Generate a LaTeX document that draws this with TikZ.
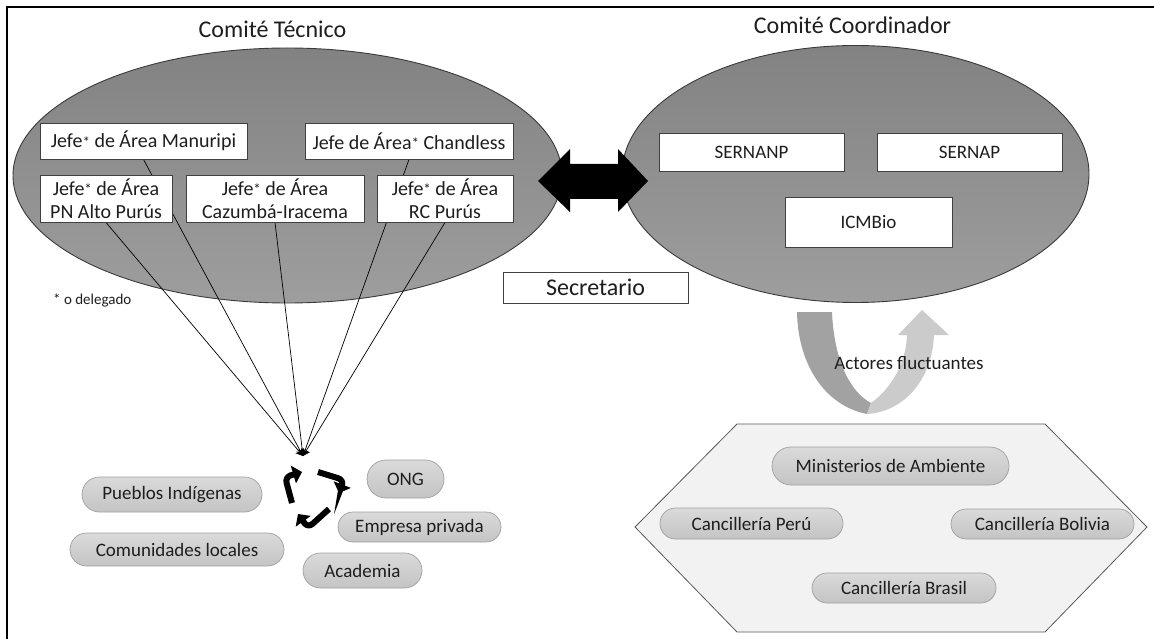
\documentclass[tikz,border=0pt]{standalone}
\usepackage{fontspec}
\setmainfont{Carlito}
\usetikzlibrary{shapes.geometric,shapes.misc,arrows.meta}
\pgfdeclarelayer{back}
\pgfdeclarelayer{mid}
\pgfsetlayers{back,mid,main}
\definecolor{txt}{HTML}{1E1E1E}
\definecolor{boxline}{HTML}{404040}
\definecolor{elltop}{HTML}{828282}
\definecolor{ellbot}{HTML}{9E9E9E}
\definecolor{ellline}{HTML}{3A3A3A}
\definecolor{pilltop}{HTML}{DADADA}
\definecolor{pillbot}{HTML}{C4C4C4}
\definecolor{pillline}{HTML}{A0A0A0}
\definecolor{hexfill}{HTML}{F2F2F2}
\definecolor{hexline}{HTML}{595959}
\definecolor{udark}{HTML}{A2A2A2}
\definecolor{ulight}{HTML}{CBCBCB}
\newcommand\mystar{\raisebox{0.02em}{\fontsize{15}{15}\selectfont *}}
\begin{document}
\begin{tikzpicture}[x=1pt,y=-1pt,
  titletext/.style={font=\fontsize{24}{28}\selectfont, text=txt, inner sep=0, anchor=base},
  box/.style={draw=boxline, line width=0.9pt, fill=white, inner sep=0, align=center, text=txt, font=\fontsize{20}{23}\selectfont},
  pill/.style={rounded rectangle, draw=pillline, line width=0.7pt, top color=pilltop, bottom color=pillbot, inner sep=0, text=txt, font=\fontsize{19}{22}\selectfont},
  committee/.style={ellipse, draw=ellline, line width=0.9pt, top color=elltop, bottom color=ellbot, inner sep=0},
  feed/.style={draw=black, line width=0.7pt, -{Stealth[length=7pt,width=8pt]}},
  recyc/.style={draw=black, line width=6pt, rounded corners=6pt, -{Triangle[length=9pt,width=18pt]}},
]
\useasboundingbox (0,0) rectangle (1154,639);
\begin{pgfonlayer}{back}
\fill[white] (0,0) rectangle (1154,639);
\end{pgfonlayer}
% frame
\draw[black, line width=2pt] (7,639) -- (7,7) -- (1154,7);

% titles
\node[titletext] (tct) at (272.5,38) {Comité Técnico};
\node[titletext] (tcc) at (852.5,34) {Comité Coordinador};

% committees
\begin{pgfonlayer}{back}
\node[committee, minimum width=549pt, minimum height=255pt] (ct) at (287.5,175.5) {};
\node[committee, minimum width=467pt, minimum height=257pt] (cc) at (855.5,174) {};
\end{pgfonlayer}

% double arrow between committees
\coordinate (dbl) at (593,181);
\fill[black] ([xshift=-55pt]dbl) -- ([xshift=-23pt,yshift=-31pt]dbl) -- ([xshift=-23pt,yshift=-18pt]dbl)
  -- ([xshift=25pt,yshift=-18pt]dbl) -- ([xshift=25pt,yshift=-31pt]dbl) -- ([xshift=55pt]dbl)
  -- ([xshift=25pt,yshift=32pt]dbl) -- ([xshift=25pt,yshift=17pt]dbl) -- ([xshift=-23pt,yshift=17pt]dbl)
  -- ([xshift=-23pt,yshift=32pt]dbl) -- cycle;

% boxes of Comité Técnico
\node[box, minimum width=207pt, minimum height=36pt] (man) at (143.5,141) {Jefe\mystar{} de Área Manuripi};
\node[box, minimum width=208pt, minimum height=36pt] (cha) at (409,141) {Jefe de Área\mystar{} Chandless};
\node[box, minimum width=132pt, minimum height=47pt] (pn) at (106,198.5) {Jefe\mystar{} de Área\\PN Alto Purús};
\node[box, minimum width=178pt, minimum height=47pt] (caz) at (275,198.5) {Jefe\mystar{} de Área\\Cazumbá-Iracema};
\node[box, minimum width=136pt, minimum height=47pt] (rc) at (445,198.5) {Jefe\mystar{} de Área\\RC Purús};

% boxes of Comité Coordinador
\node[box, font=\fontsize{19}{22}\selectfont, minimum width=185pt, minimum height=38pt] (sernanp) at (751.5,152) {SERNANP};
\node[box, font=\fontsize{19}{22}\selectfont, minimum width=185pt, minimum height=38pt] (sernap) at (969.5,152) {SERNAP};
\node[box, font=\fontsize{19}{22}\selectfont, minimum width=167pt, minimum height=50pt] (icm) at (868.5,222) {ICMBio};

\node[box, font=\fontsize{24}{28}\selectfont, minimum width=185pt, minimum height=31pt] (sec) at (595.5,287.5) {Secretario};

\node[anchor=west, inner sep=0, text=txt, font=\fontsize{15}{18}\selectfont] (del) at (53,300) {* o delegado};

% feed lines
\coordinate (hub) at (303,456);
\begin{pgfonlayer}{mid}
\draw[feed] (pn.south) -- (hub);
\draw[feed] (man.south) -- (hub);
\draw[feed] (caz.south) -- (hub);
\draw[feed] (cha.south) -- (hub);
\draw[feed] (rc.south) -- (hub);
\end{pgfonlayer}

% recycle symbol
\draw[recyc] (292,503) -- (285,477) -- (302,472);
\draw[recyc] (318,472) -- (344,480) -- (339,493);
\draw[recyc] (329,509) -- (308,528) -- (298,514);

% actors
\node[pill, minimum width=180pt, minimum height=35pt] (pue) at (172,494.5) {Pueblos Indígenas};
\node[pill, minimum width=214pt, minimum height=33pt] (com) at (177,549.5) {Comunidades locales};
\node[pill, minimum width=77pt, minimum height=38pt] (ong) at (405.5,479) {ONG};
\node[pill, minimum width=163pt, minimum height=30pt] (emp) at (419.5,527) {Empresa privada};
\node[pill, minimum width=119pt, minimum height=35pt] (aca) at (362.5,570.5) {Academia};

% U-turn arrow
\fill[udark] (797,312) -- (832,312) .. controls (834,360) and (850,392) .. (871,403)
  -- (867,414) .. controls (826,406) and (798,366) .. (797,312) -- cycle;
\fill[ulight] (871,403) .. controls (889,390) and (906,366) .. (907,335) -- (898,335) -- (922,310)
  -- (949,335) -- (934,335) .. controls (932,382) and (902,412) .. (867,414) -- cycle;
\node[inner sep=0, text=txt, font=\fontsize{19}{22}\selectfont] (act) at (909,363) {Actores fluctuantes};

% hexagon
\draw[hexline, fill=hexfill, line width=0.8pt] (635,527) -- (737,424) -- (1045,424) -- (1147,527) -- (1045,632) -- (737,632) -- cycle;
\node[pill, minimum width=237pt, minimum height=38pt] (min) at (890.5,466) {Ministerios de Ambiente};
\node[pill, minimum width=183pt, minimum height=31pt] (per) at (751.5,523.5) {Cancillería Perú};
\node[pill, minimum width=183pt, minimum height=30pt] (bol) at (1042.5,524) {Cancillería Bolivia};
\node[pill, minimum width=184pt, minimum height=30pt] (bra) at (904,588) {Cancillería Brasil};
\end{tikzpicture}
\end{document}
